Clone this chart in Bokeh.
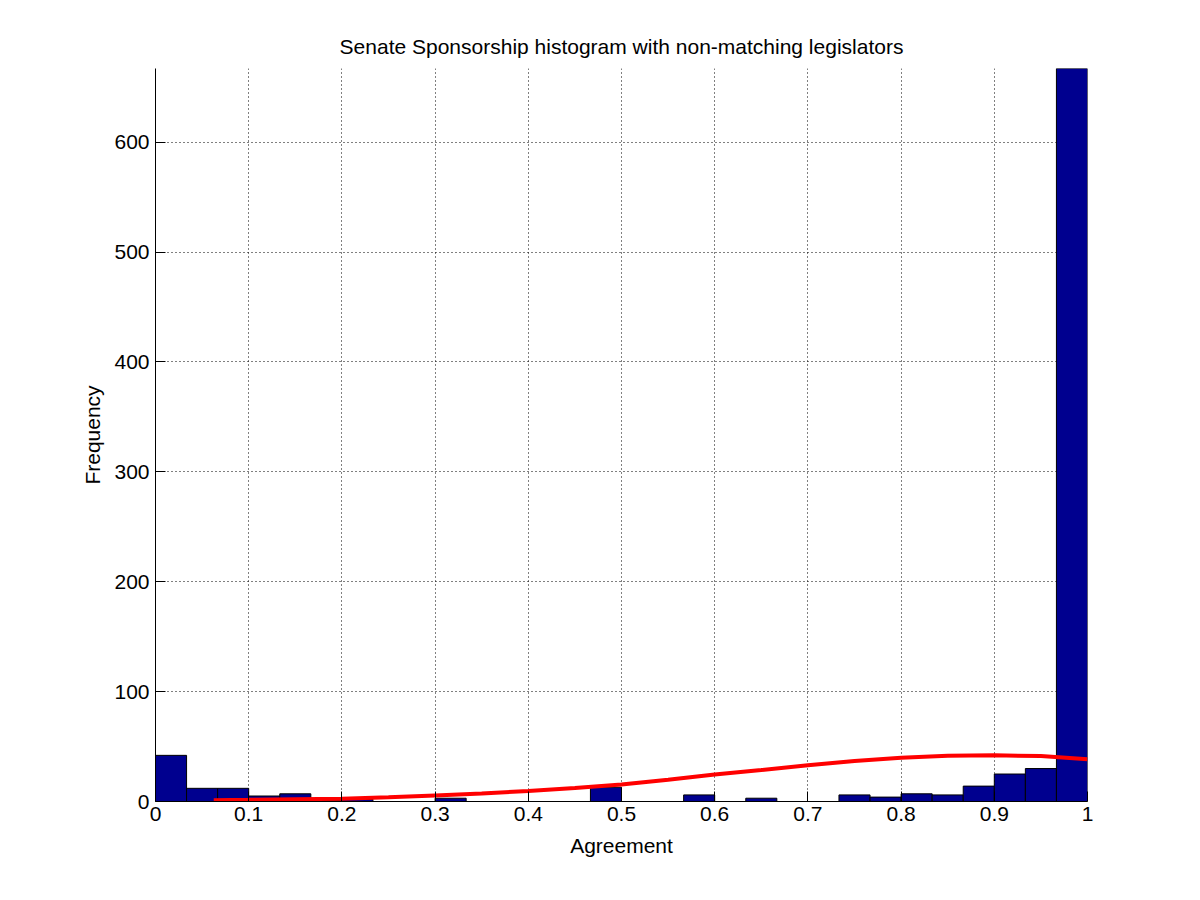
import numpy as np
from bokeh.plotting import figure
from bokeh.models import FixedTicker, Range1d
from bokeh.embed import file_html
from bokeh.resources import INLINE

# histogram counts, 30 equal bins on [0, 1]
counts = [42, 12, 12, 5, 7, 1, 2, 0, 0, 3,
          0, 0, 0, 0, 13, 0, 0, 6, 0, 3,
          0, 0, 6, 4, 7, 6, 14, 25, 30, 667]
edges = np.linspace(0, 1, len(counts) + 1)

# fitted curve
curve_x = [0.0625, 0.1, 0.15, 0.2, 0.25, 0.3, 0.35, 0.4, 0.45, 0.5,
           0.55, 0.6, 0.65, 0.7, 0.75, 0.8, 0.85, 0.9, 0.95, 1.0]
curve_y = [1.2, 1.5, 2.0, 2.5, 3.8, 5.5, 7.2, 9.6, 12.3, 15.4,
           19.8, 24.5, 28.6, 33.0, 36.8, 39.8, 41.6, 42.0, 41.3, 38.5]

x_ticks = [0, 0.1, 0.2, 0.3, 0.4, 0.5, 0.6, 0.7, 0.8, 0.9, 1]
x_labels = {0: "0", 0.1: "0.1", 0.2: "0.2", 0.3: "0.3", 0.4: "0.4", 0.5: "0.5",
            0.6: "0.6", 0.7: "0.7", 0.8: "0.8", 0.9: "0.9", 1: "1"}
y_ticks = [0, 100, 200, 300, 400, 500, 600]

FONT = "Liberation Sans"

p = figure(width=1192, height=892, output_backend="svg", toolbar_location=None,
           x_range=Range1d(0, 1), y_range=Range1d(0, 667),
           min_border_left=155, min_border_right=105,
           min_border_top=68, min_border_bottom=91,
           title="Senate Sponsorship histogram with non-matching legislators")

p.background_fill_color = "white"
p.border_fill_color = "white"
p.outline_line_color = None

p.title.align = "center"
p.title.text_font = FONT
p.title.text_font_size = "21px"
p.title.text_font_style = "normal"
p.title.text_color = "black"
p.title.standoff = 22

p.quad(left=edges[:-1], right=edges[1:], bottom=0, top=counts,
       fill_color="#00008F", line_color="black", line_width=1)

p.line(curve_x, curve_y, line_color="#FF0000", line_width=4)

for ax in (p.xaxis, p.yaxis):
    ax.major_tick_in = 10
    ax.major_tick_out = 0
    ax.minor_tick_line_color = None
    ax.axis_line_color = "black"
    ax.major_tick_line_color = "black"
    ax.major_label_text_font = FONT
    ax.major_label_text_font_size = "21px"
    ax.major_label_text_color = "black"
    ax.axis_label_text_font = FONT
    ax.axis_label_text_font_size = "21px"
    ax.axis_label_text_font_style = "normal"
    ax.axis_label_text_color = "black"

p.xaxis.ticker = FixedTicker(ticks=x_ticks)
p.xaxis.major_label_overrides = x_labels
p.xaxis.major_label_standoff = 5
p.xaxis.axis_label = "Agreement"
p.xaxis.axis_label_standoff = 10

p.yaxis.ticker = FixedTicker(ticks=y_ticks)
p.yaxis.major_label_standoff = 6
p.yaxis.axis_label = "Frequency"
p.yaxis.axis_label_standoff = 7

p.grid.grid_line_color = "black"
p.grid.grid_line_dash = "1 3"
p.grid.grid_line_width = 1
p.xgrid.ticker = FixedTicker(ticks=x_ticks)
p.ygrid.ticker = FixedTicker(ticks=y_ticks)

open("out.html", "w").write(file_html(p, INLINE))
